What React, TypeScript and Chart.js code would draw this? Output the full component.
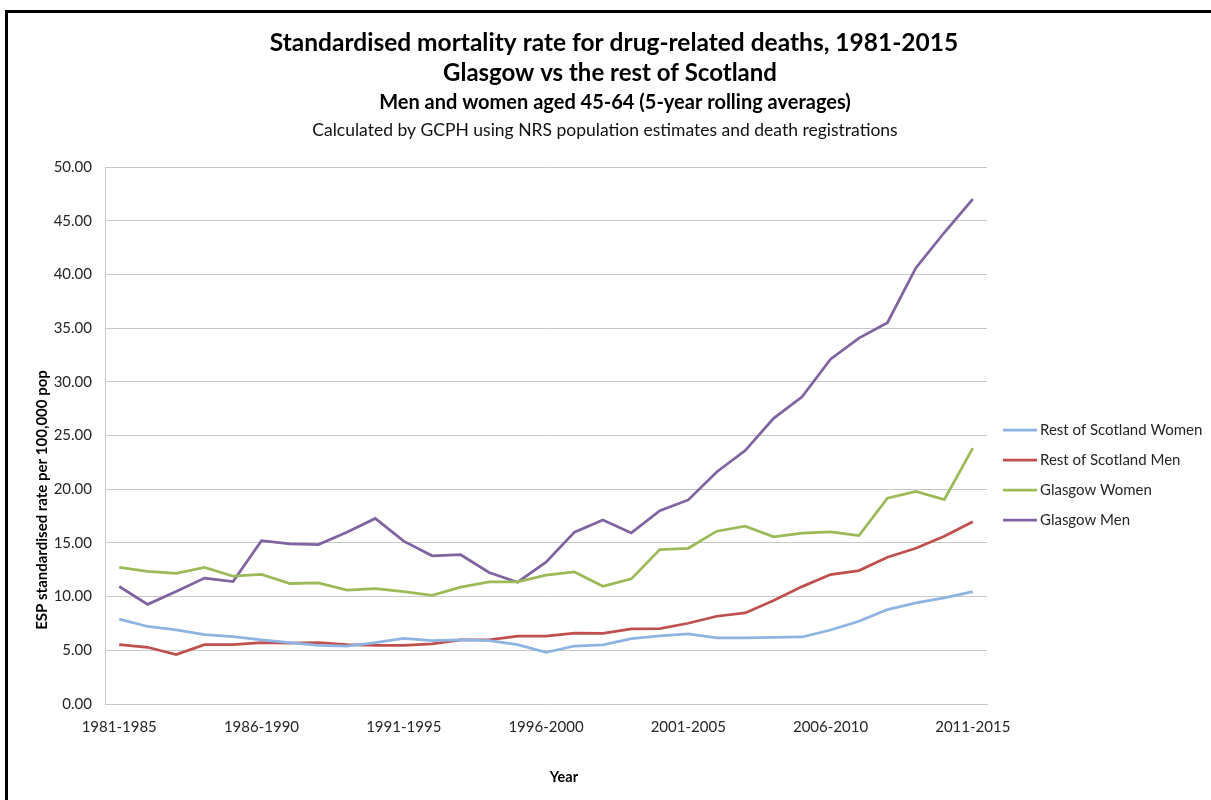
import React, { useEffect, useRef } from "react";
import { Chart, registerables } from "chart.js";

Chart.register(...registerables);

const periods = [
  "1981-1985", "1982-1986", "1983-1987", "1984-1988", "1985-1989",
  "1986-1990", "1987-1991", "1988-1992", "1989-1993", "1990-1994",
  "1991-1995", "1992-1996", "1993-1997", "1994-1998", "1995-1999",
  "1996-2000", "1997-2001", "1998-2002", "1999-2003", "2000-2004",
  "2001-2005", "2002-2006", "2003-2007", "2004-2008", "2005-2009",
  "2006-2010", "2007-2011", "2008-2012", "2009-2013", "2010-2014",
  "2011-2015",
];

const restWomen = [7.9, 7.22, 6.9, 6.47, 6.28, 5.97, 5.72, 5.47, 5.4, 5.72, 6.12, 5.9, 5.97, 5.9, 5.53, 4.81, 5.4, 5.5, 6.09, 6.34, 6.52, 6.15, 6.15, 6.21, 6.24, 6.89, 7.7, 8.79, 9.41, 9.88, 10.47];
const restMen = [5.53, 5.28, 4.6, 5.53, 5.53, 5.72, 5.66, 5.72, 5.53, 5.47, 5.47, 5.6, 5.97, 5.97, 6.31, 6.31, 6.6, 6.58, 6.99, 7.02, 7.52, 8.17, 8.48, 9.63, 10.93, 12.05, 12.42, 13.66, 14.5, 15.62, 16.96];
const glasgowWomen = [12.72, 12.34, 12.16, 12.72, 11.9, 12.06, 11.22, 11.28, 10.6, 10.75, 10.47, 10.12, 10.88, 11.38, 11.38, 12.0, 12.3, 10.96, 11.65, 14.38, 14.5, 16.09, 16.55, 15.56, 15.9, 16.02, 15.68, 19.16, 19.8, 19.04, 23.82];
const glasgowMen = [10.94, 9.28, 10.47, 11.72, 11.4, 15.2, 14.9, 14.84, 16.0, 17.28, 15.16, 13.8, 13.9, 12.25, 11.34, 13.2, 16.0, 17.14, 15.93, 18.0, 19.0, 21.6, 23.6, 26.6, 28.6, 32.1, 34.07, 35.5, 40.6, 43.9, 47.0];

const seriesNames = ["Rest of Scotland Women", "Rest of Scotland Men", "Glasgow Women", "Glasgow Men"];
const seriesColors = ["#8db4e2", "#c0504d", "#9bbb59", "#8064a2"];

const titleLines = [
  "Standardised mortality rate for drug-related deaths, 1981-2015",
  "Glasgow vs the rest of Scotland",
  "Men and women aged 45-64 (5-year rolling averages)",
  "Calculated by GCPH using NRS population estimates and death registrations",
];
const yAxisTitle = "ESP standardised rate per 100,000 pop";
const xAxisTitle = "Year";

const FONT = "Lato, 'Open Sans', sans-serif";

const overlayPlugin = {
  id: "overlay",
  afterDraw(chart: any) {
    const ctx = chart.ctx;
    ctx.save();
    ctx.fillStyle = "#000";
    ctx.textAlign = "center";
    ctx.textBaseline = "middle";
    ctx.font = `bold 24.5px ${FONT}`;
    ctx.fillText(titleLines[0], 614, 43);
    ctx.font = `bold 24px ${FONT}`;
    ctx.fillText(titleLines[1], 610, 73);
    ctx.font = `bold 20px ${FONT}`;
    ctx.fillText(titleLines[2], 615, 103);
    ctx.font = `17.5px ${FONT}`;
    ctx.fillStyle = "#111";
    ctx.fillText(titleLines[3], 605, 130);

    ctx.fillStyle = "#000";
    ctx.font = `bold 14.5px ${FONT}`;
    ctx.fillText(xAxisTitle, 564, 777);

    ctx.save();
    ctx.translate(42, 500);
    ctx.rotate(-Math.PI / 2);
    ctx.font = `bold 15px ${FONT}`;
    ctx.fillText(yAxisTitle, 0, 0);
    ctx.restore();

    // legend
    ctx.textAlign = "left";
    ctx.font = `15px ${FONT}`;
    const ds = chart.data.datasets;
    for (let i = 0; i < ds.length; i++) {
      const y = 430 + i * 30;
      ctx.strokeStyle = ds[i].borderColor;
      ctx.lineWidth = 2.75;
      ctx.beginPath();
      ctx.moveTo(1003, y);
      ctx.lineTo(1037, y);
      ctx.stroke();
      ctx.fillStyle = "#262626";
      ctx.fillText(ds[i].label, 1040, y);
    }
    ctx.restore();
  },
};

export default function App() {
  const canvasRef = useRef<HTMLCanvasElement | null>(null);

  useEffect(() => {
    if (!canvasRef.current) return;
    const seriesData = [restWomen, restMen, glasgowWomen, glasgowMen];
    const chart = new Chart(canvasRef.current, {
      type: "line",
      data: {
        labels: periods,
        datasets: seriesNames.map((name, i) => ({
          label: name,
          data: seriesData[i],
          borderColor: seriesColors[i],
          backgroundColor: seriesColors[i],
          borderWidth: 2.75,
          pointRadius: 0,
          tension: 0,
          fill: false,
        })),
      },
      options: {
        animation: false,
        responsive: false,
        layout: { padding: { left: 0, right: 224, top: 167, bottom: 0 } },
        plugins: {
          legend: { display: false },
          title: { display: false },
          tooltip: { enabled: false },
        },
        scales: {
          x: {
            type: "category",
            offset: true,
            grid: { display: false, drawTicks: false },
            border: { display: true, color: "#c8c8c8", width: 1 },
            ticks: {
              autoSkip: false,
              maxRotation: 0,
              minRotation: 0,
              padding: 14,
              color: "#262626",
              font: { family: FONT, size: 15 },
              callback: (_v: any, i: number) => (i % 5 === 0 ? periods[i] : ""),
            },
            afterFit: (s: any) => {
              s.height = 96;
            },
          },
          y: {
            min: 0,
            max: 50,
            grid: { color: "#c8c8c8", lineWidth: 1, drawTicks: false },
            border: { display: true, color: "#c8c8c8", width: 1 },
            ticks: {
              stepSize: 5,
              padding: 13,
              color: "#262626",
              font: { family: FONT, size: 15 },
              callback: (v: any) => Number(v).toFixed(2),
            },
            afterFit: (s: any) => {
              s.width = 105;
            },
          },
        },
      },
      plugins: [overlayPlugin],
    } as any);
    return () => chart.destroy();
  }, []);

  return (
    <div
      style={{
        position: "fixed",
        left: 0,
        top: 0,
        width: 1211,
        height: 800,
        overflow: "hidden",
        background: "#fff",
      }}
    >
      <canvas ref={canvasRef} width={1211} height={800} style={{ position: "absolute", left: 0, top: 0 }} />
      <div
        style={{
          position: "absolute",
          left: 5,
          top: 10,
          width: 1300,
          height: 900,
          borderTop: "3px solid #000",
          borderLeft: "3px solid #000",
          boxSizing: "border-box",
          pointerEvents: "none",
        }}
      />
    </div>
  );
}
